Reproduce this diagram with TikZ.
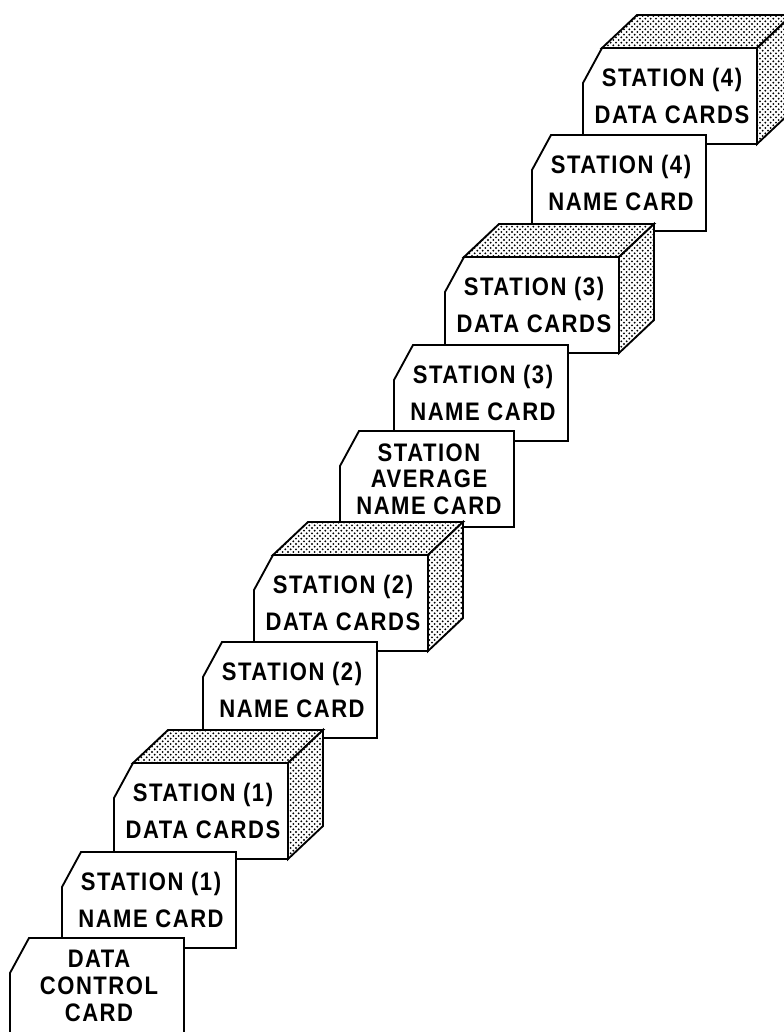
\documentclass[tikz,border=0pt]{standalone}
\usepackage{fontspec}
\usepackage{tikz}
\usetikzlibrary{patterns}
\newfontfamily\cardfont[FakeStretch=0.87,LetterSpace=6]{Liberation Sans}

% staggered dot screen for the deck faces
\pgfdeclarepatternformonly{deckdots}{\pgfqpoint{-1pt}{-1pt}}{\pgfqpoint{5pt}{5pt}}%
  {\pgfqpoint{4pt}{4pt}}{%
  \pgfpathcircle{\pgfqpoint{0pt}{0pt}}{0.8pt}%
  \pgfpathcircle{\pgfqpoint{2pt}{2pt}}{0.8pt}%
  \pgfusepath{fill}}

% flat card with the cut corner, label node in the middle
\newcommand{\namecard}[5][twoline]{%
  \draw[card] (#3,#4+35) -- (#3+19,#4) -- (#3+174,#4) -- (#3+174,#4+96)
    -- (#3,#4+96) -- cycle;
  \node[#1] (#2) at (#3+89,#4+48) {#5};}
% deck of cards: dotted top and side, then the front card
\newcommand{\datadeck}[4]{%
  \draw[dotface] (#2+19,#3) -- ++(35,-33) -- (#2+209,#3-33) -- (#2+174,#3) -- cycle;
  \draw[dotface] (#2+174,#3) -- (#2+209,#3-33) -- (#2+209,#3+63)
    -- (#2+174,#3+96) -- cycle;
  \namecard{#1}{#2}{#3}{#4}}

\begin{document}
\begin{tikzpicture}[
  x=0.75pt, y=-0.75pt,
  card/.style={draw, line width=1.4pt, fill=white},
  dotface/.style={draw, line width=1.4pt, preaction={fill=white},
                  pattern=deckdots, pattern color=black},
  twoline/.style={align=center, inner sep=0pt,
                  font=\cardfont\bfseries\fontsize{19}{27.75}\selectfont},
  threeline/.style={twoline, font=\cardfont\bfseries\fontsize{19}{20}\selectfont}
]
\useasboundingbox (0,0) rectangle (784,1032);
\clip (0,0) rectangle (784,1032);
% from the back of the stack to the front
\datadeck{dc4}{583}{48}{STATION (4)\\DATA CARDS}
\namecard{nc4}{532}{135}{STATION (4)\\NAME CARD}
\datadeck{dc3}{445}{257}{STATION (3)\\DATA CARDS}
\namecard{nc3}{394}{345}{STATION (3)\\NAME CARD}
\namecard[threeline]{avg}{340}{431}{STATION\\AVERAGE\\NAME CARD}
\datadeck{dc2}{254}{555}{STATION (2)\\DATA CARDS}
\namecard{nc2}{203}{642}{STATION (2)\\NAME CARD}
\datadeck{dc1}{114}{763}{STATION (1)\\DATA CARDS}
\namecard{nc1}{62}{852}{STATION (1)\\NAME CARD}
\namecard[threeline]{ctrl}{10}{938}{DATA\\CONTROL\\CARD}
\end{tikzpicture}
\end{document}
